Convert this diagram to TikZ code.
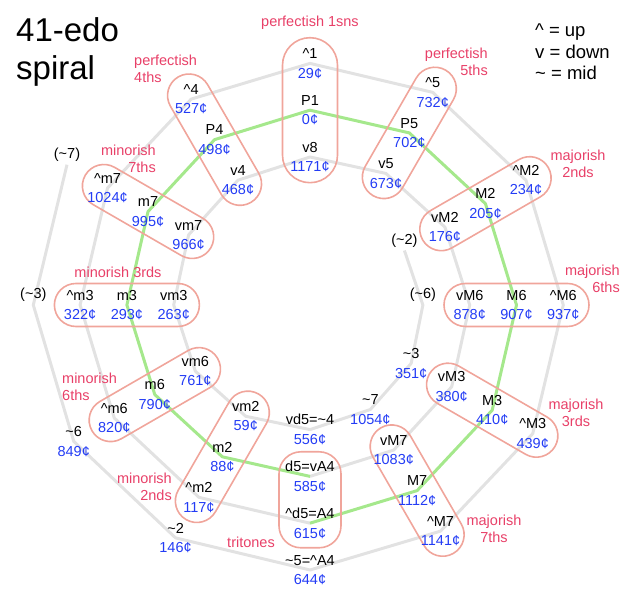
\documentclass[tikz,border=0pt]{standalone}
\usepackage{fontspec}
\setmainfont{Liberation Sans}
\usetikzlibrary{calc}
\definecolor{centblue}{RGB}{35,60,245}
\definecolor{grouppink}{RGB}{232,64,104}
\definecolor{pillred}{RGB}{240,165,155}
\definecolor{spiralgray}{RGB}{226,226,226}
\definecolor{fifthgreen}{RGB}{165,232,140}
\newcommand\upsym{\textasciicircum}
\newcommand\midsym{\textasciitilde}

\begin{document}
\begin{tikzpicture}[x=1pt,y=1pt,
  every node/.style={font=\fontsize{14.5}{19.5}\selectfont}
]

\tikzstyle{spiral}=[spiralgray,line width=3pt,line join=round]
\tikzstyle{fifths}=[fifthgreen,line width=3pt,line join=round]
\tikzstyle{note}=[align=center,inner sep=0pt]
\tikzstyle{pill}=[draw=pillred,line width=1.6pt,minimum width=145pt,minimum height=43pt,rounded corners=21.5pt]
\tikzstyle{group}=[grouppink,inner sep=0pt,font=\fontsize{14.5}{17}\selectfont]

\useasboundingbox (0,0) rectangle (630,599);
\coordinate (c) at (310,294);

\foreach \k in {0,...,44}
  \path (c) ++({30-30*\k}:{109+3.9*\k}) coordinate (v\k);

\draw[spiral] (v0) \foreach \k in {1,...,16}{ -- (v\k)};
\draw[spiral] (v28) \foreach \k in {29,...,44}{ -- (v\k)};
\draw[fifths] (v16) \foreach \k in {17,...,28}{ -- (v\k)};

\foreach \k in {17,18,19,20,21,23,24,25,26,27}
  \node[pill,rotate={30-30*\k}] (g\k) at (v\k) {};
\node[pill,rotate=90,minimum height=55pt,rounded corners=27.5pt] (g22) at (v22) {};
\node[pill,minimum width=62pt,minimum height=96pt,rounded corners=22pt] (gtri) at ($(v16)!0.5!(v28)$) {};

\foreach \k/\nm/\ct in {2/\midsym3/351,3/\midsym7/1054,4/vd5=\midsym4/556,
    5/vm2/59,6/vm6/761,7/vm3/263,8/vm7/966,9/v4/468,10/v8/1171,11/v5/673,
    12/vM2/176,13/vM6/878,14/vM3/380,15/vM7/1083,16/d5=vA4/585,
    17/m2/88,18/m6/790,19/m3/293,20/m7/995,21/P4/498,22/P1/0,23/P5/702,
    24/M2/205,25/M6/907,26/M3/410,27/M7/1112,28/\upsym d5=A4/615,
    29/\upsym m2/117,30/\upsym m6/820,31/\upsym m3/322,32/\upsym m7/1024,
    33/\upsym4/527,34/\upsym1/29,35/\upsym5/732,36/\upsym M2/234,
    37/\upsym M6/937,38/\upsym M3/439,39/\upsym M7/1141,
    40/\midsym5=\upsym A4/644,41/\midsym2/146,42/\midsym6/849}
  \node[note] (n\k) at (v\k) {\nm\\\color{centblue}\ct¢};

\foreach \k/\nm in {0/\midsym2,1/\midsym6,43/\midsym3,44/\midsym7}
  \node[note,yshift=10pt] (n\k) at (v\k) {(\nm)};

\node[group] (t1sns) at (310,576) {perfectish 1sns};
\node[group,anchor=east,align=right] (t5ths) at (488,537.5) {perfectish\\5ths};
\node[group,align=center] (tM2) at (578,435.5) {majorish\\2nds};
\node[group,anchor=east,align=right] (tM6) at (620,320.5) {majorish\\6ths};
\node[group,align=center] (tM3) at (576,186) {majorish\\3rds};
\node[group,align=center] (tM7) at (494,70.5) {majorish\\7ths};
\node[group] (ttri) at (251,57) {tritones};
\node[group,anchor=east,align=right] (tm2) at (172,112) {minorish\\2nds};
\node[group,anchor=west,align=left] (tm6) at (62,212.5) {minorish\\6ths};
\node[group] (tm3) at (118,327) {minorish 3rds};
\node[group,anchor=east,align=right] (tm7) at (156,440.5) {minorish\\7ths};
\node[group,anchor=west,align=left] (t4ths) at (134,530.5) {perfectish\\4ths};

\node[anchor=north west,align=left,inner sep=0pt,font=\fontsize{33}{38}\selectfont] (title) at (16,582) {41-edo\\spiral};
\node[anchor=north west,align=left,inner sep=0pt,font=\fontsize{18.5}{21.5}\selectfont] (legend) at (535,575) {\upsym{} = up\\v = down\\\midsym{} = mid};
\end{tikzpicture}
\end{document}
